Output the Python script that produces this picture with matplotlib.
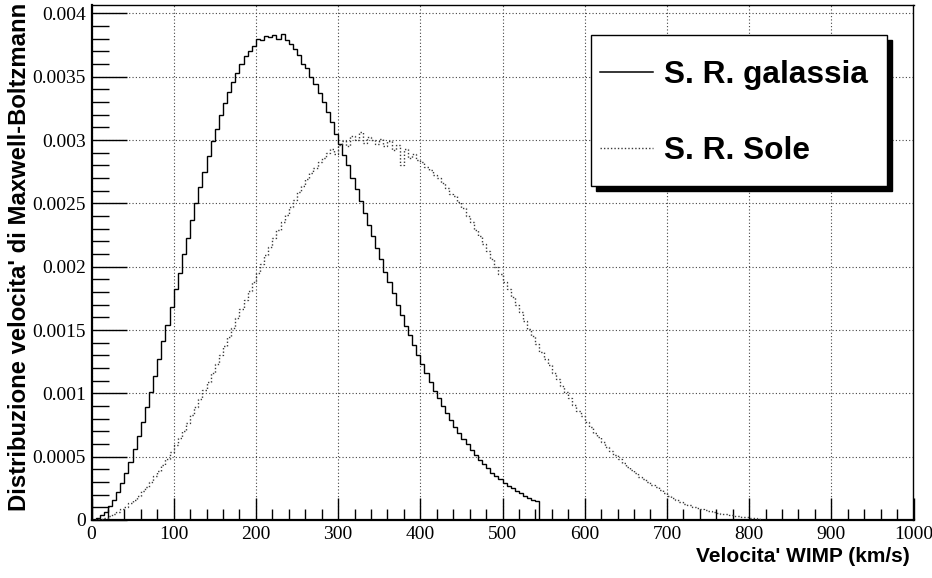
import numpy as np
import matplotlib
matplotlib.use("Agg")
import matplotlib.pyplot as plt
from matplotlib.patches import Rectangle
from matplotlib.lines import Line2D
from matplotlib.ticker import MultipleLocator, FixedLocator

# ---------------- data (values in units of 1e-3) ----------------
bin_width = 5.0  # km/s
galassia = [
    0.003, 0.013, 0.036, 0.066, 0.11, 0.16, 0.225, 0.29, 0.375, 0.46,
    0.56, 0.665, 0.77, 0.895, 1.01, 1.14, 1.27, 1.41, 1.54, 1.68,
    1.82, 1.95, 2.10, 2.23, 2.37, 2.50, 2.63, 2.75, 2.87, 2.99,
    3.09, 3.20, 3.29, 3.38, 3.46, 3.53, 3.60, 3.66, 3.70, 3.74,
    3.80, 3.79, 3.82, 3.81, 3.83, 3.80, 3.84, 3.79, 3.76, 3.72,
    3.67, 3.60, 3.57, 3.50, 3.44, 3.37, 3.30, 3.22, 3.14, 3.05,
    2.97, 2.88, 2.80, 2.70, 2.61, 2.52, 2.42, 2.33, 2.24, 2.15,
    2.06, 1.96, 1.88, 1.79, 1.70, 1.62, 1.53, 1.46, 1.38, 1.30,
    1.23, 1.16, 1.09, 1.02, 0.96, 0.90, 0.845, 0.79, 0.735, 0.69,
    0.64, 0.60, 0.555, 0.515, 0.475, 0.44, 0.41, 0.375, 0.35, 0.32,
    0.295, 0.27, 0.25, 0.23, 0.21, 0.19, 0.175, 0.16, 0.15,
]
sole = [
    0.0015, 0.0045, 0.010, 0.019, 0.030, 0.045, 0.062, 0.083, 0.106, 0.132,
    0.160, 0.192, 0.226, 0.263, 0.302, 0.344, 0.389, 0.436, 0.485, 0.537,
    0.591, 0.647, 0.705, 0.766, 0.828, 0.891, 0.957, 1.024, 1.092, 1.161,
    1.231, 1.302, 1.374, 1.446, 1.519, 1.592, 1.665, 1.738, 1.81, 1.881,
    1.952, 2.022, 2.091, 2.158, 2.224, 2.288, 2.35, 2.41, 2.47, 2.53,
    2.59, 2.64, 2.69, 2.74, 2.78, 2.83, 2.86, 2.90, 2.93, 2.89,
    2.96, 2.99, 2.95, 3.03, 3.00, 3.06, 2.98, 3.02, 3.00, 2.97,
    3.01, 2.95, 2.99, 2.92, 2.96, 2.80, 2.93, 2.86, 2.89, 2.84,
    2.83, 2.79, 2.76, 2.72, 2.70, 2.66, 2.62, 2.57, 2.56, 2.51,
    2.46, 2.40, 2.35, 2.29, 2.24, 2.18, 2.12, 2.06, 2.00, 1.94,
    1.88, 1.82, 1.76, 1.70, 1.64, 1.57, 1.51, 1.45, 1.39, 1.33,
    1.27, 1.22, 1.16, 1.11, 1.06, 1.01, 0.96, 0.91, 0.86, 0.82,
    0.775, 0.735, 0.69, 0.655, 0.615, 0.58, 0.545, 0.51, 0.48, 0.45,
    0.42, 0.395, 0.368, 0.342, 0.32, 0.298, 0.277, 0.257, 0.236, 0.213,
    0.192, 0.175, 0.159, 0.144, 0.13, 0.117, 0.106, 0.096, 0.087, 0.079,
    0.071, 0.064, 0.057, 0.051, 0.046, 0.040, 0.035, 0.030, 0.026, 0.022,
    0.018, 0.014, 0.009, 0.003,
]
x_ticks = [0, 100, 200, 300, 400, 500, 600, 700, 800, 900, 1000]
y_ticks = [0, 0.0005, 0.001, 0.0015, 0.002, 0.0025, 0.003, 0.0035, 0.004]
y_tick_labels = ["0", "0.0005", "0.001", "0.0015", "0.002", "0.0025", "0.003", "0.0035", "0.004"]
legend_labels = ["S. R. galassia", "S. R. Sole"]
x_title = "Velocita' WIMP (km/s)"
y_title = "Distribuzione velocita' di Maxwell-Boltzmann"

# ---------------- figure ----------------
W, H = 932, 578
fig = plt.figure(figsize=(W / 100, H / 100), dpi=100)
ax = fig.add_axes([91.5 / W, 1 - 520 / H, (913.5 - 91.5) / W, (520 - 4.5) / H])

g = np.array(galassia) * 1e-3
s = np.array(sole) * 1e-3
edges_g = np.arange(len(g) + 1) * bin_width
edges_s = np.arange(len(s) + 1) * bin_width

ax.stairs(g, edges_g, baseline=0, color="black", lw=1.0, zorder=3)
ax.stairs(s, edges_s, baseline=None, color="#3a3a3a", lw=1.0, ls=(0, (1, 1.5)), zorder=3)

ax.set_xlim(0, 1000)
ax.set_ylim(0, 0.00407)

ax.xaxis.set_major_locator(FixedLocator(x_ticks))
ax.xaxis.set_minor_locator(MultipleLocator(20))
ax.yaxis.set_major_locator(FixedLocator(y_ticks))
ax.yaxis.set_minor_locator(MultipleLocator(0.0001))
ax.set_xticklabels([str(t) for t in x_ticks])
ax.set_yticklabels(y_tick_labels)

ax.tick_params(axis="both", which="both", direction="in", top=False, right=False, color="black")
ax.tick_params(axis="x", which="major", length=16, width=1.0, pad=4)
ax.tick_params(axis="x", which="minor", length=8, width=1.0)
ax.tick_params(axis="y", which="major", length=25, width=1.0, pad=4)
ax.tick_params(axis="y", which="minor", length=12.5, width=1.0)
for lab in ax.get_xticklabels() + ax.get_yticklabels():
    lab.set_fontfamily("Liberation Serif")
    lab.set_fontsize(14)

ax.grid(True, which="major", color="#444444", ls=(0, (1, 2)), lw=0.8)
ax.set_axisbelow(True)
for sp in ax.spines.values():
    sp.set_color("black")
    sp.set_linewidth(1.0)
ax.spines["left"].set_linewidth(1.6)
ax.spines["bottom"].set_linewidth(1.6)

# axis titles (right/top aligned like ROOT)
fig.text(910 / W, 1 - 556 / H, x_title, ha="right", va="center",
         fontfamily="Liberation Sans", fontweight="bold", fontsize=15)
fig.text(20 / W, 1 - 3 / H, y_title, ha="center", va="top", rotation=90,
         fontfamily="Liberation Sans", fontweight="bold", fontsize=17.2)

# legend box with shadow
bx0, bx1, by0, by1 = 590.5, 887.0, 35.0, 185.5
sh = 5
fig.add_artist(Rectangle(((bx0 + sh) / W, 1 - (by1 + sh) / H), (bx1 - bx0) / W, (by1 - by0) / H,
                         transform=fig.transFigure, facecolor="black", edgecolor="black", zorder=10))
fig.add_artist(Rectangle((bx0 / W, 1 - by1 / H), (bx1 - bx0) / W, (by1 - by0) / H,
                         transform=fig.transFigure, facecolor="white", edgecolor="black", lw=1.0, zorder=11))
rows_y = [71.5, 147.5]
styles = [dict(color="black", lw=1.1, ls="-"), dict(color="#3a3a3a", lw=1.0, ls=(0, (1, 1.5)))]
for yy, lab, st in zip(rows_y, legend_labels, styles):
    fig.add_artist(Line2D([600 / W, 653 / W], [1 - yy / H, 1 - yy / H], transform=fig.transFigure,
                          zorder=12, **st))
    fig.text(664 / W, 1 - yy / H, lab, ha="left", va="center_baseline", fontfamily="Liberation Sans",
             fontweight="bold", fontsize=22.8, zorder=12)

fig.savefig("out.png", dpi=100)
